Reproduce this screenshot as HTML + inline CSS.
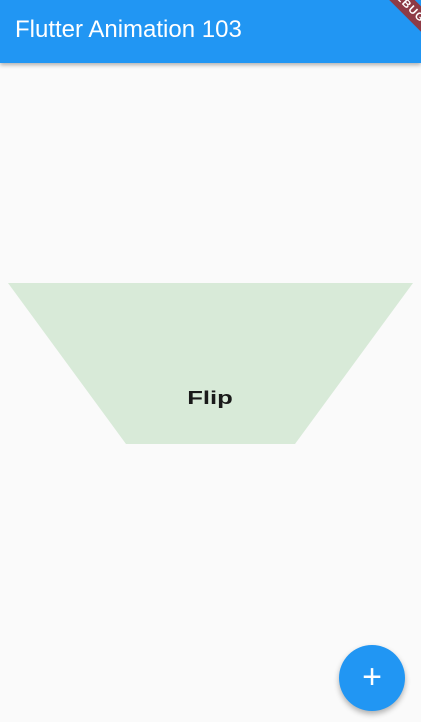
<!DOCTYPE html>
<html><head><meta charset="utf-8"><style>
body{margin:0;width:421px;height:722px;background:#fafafa;overflow:hidden;position:relative;font-family:"Liberation Sans",sans-serif}
#bar{position:absolute;left:0;top:0;width:421px;height:63px;background:#2196f3;box-shadow:0 2px 4px rgba(0,0,0,.3)}
#title{position:absolute;left:15px;top:16px;color:#fff;font-size:24px}
#banner{position:absolute;right:-41px;top:-4px;width:110px;height:18px;background:#8e3b46;transform:rotate(45deg);color:#fff;font-size:11px;font-weight:bold;text-align:center;line-height:18px;letter-spacing:1px}
#fab{position:absolute;left:339px;top:645px;width:66px;height:66px;border-radius:50%;background:#2196f3;box-shadow:0 3px 6px rgba(0,0,0,.3);color:#fff;font-size:34px;text-align:center;line-height:64px}
</style></head><body>
<div id="bar"><div id="title">Flutter Animation 103</div></div>
<div id="banner">DEBUG</div>
<svg style="position:absolute;left:0;top:0" width="421" height="722">
<polygon points="8,283 413,283 295,444 126,444" fill="#d8ead8"/>
<text x="0" y="0" text-anchor="middle" font-family="Liberation Sans, sans-serif" font-weight="bold" font-size="19" fill="#1a1a1a" transform="translate(210,404) scale(1.35,0.95)">Flip</text>
</svg>
<div id="fab">+</div>
</body></html>
